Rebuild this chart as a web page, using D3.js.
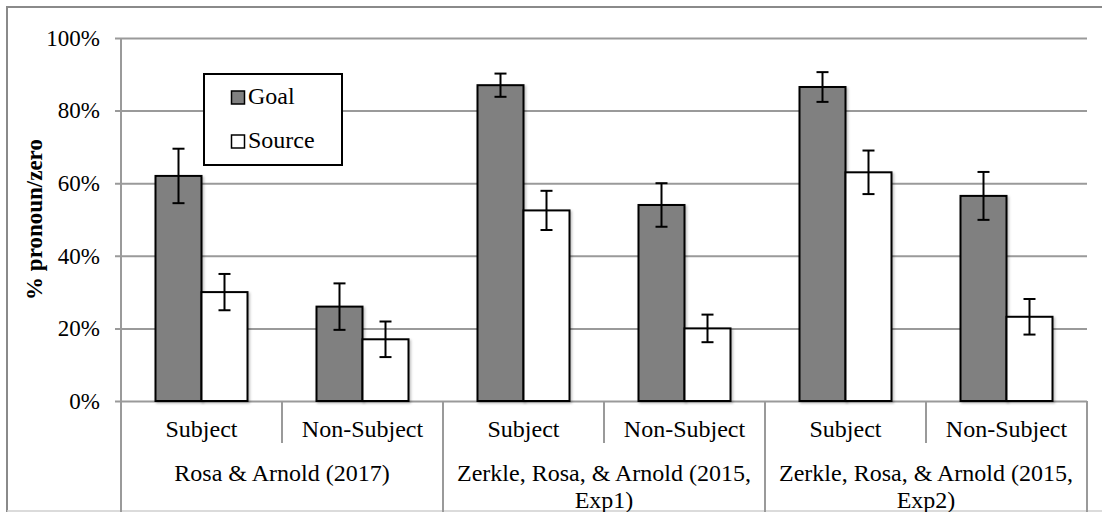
<!DOCTYPE html>
<html>
<head>
<meta charset="utf-8">
<script src="https://cdn.jsdelivr.net/npm/d3@7"></script>
<style>
  html, body { margin: 0; padding: 0; background: #fff; }
  svg { display: block; }
  svg text { font-family: "Liberation Serif", "Times New Roman", Times, "Nimbus Roman", "Nimbus Roman No9 L", "FreeSerif", "Noto Serif", "DejaVu Serif", "Tinos", serif !important; }
</style>
</head>
<body>
<svg id="chart" width="1102" height="512"></svg>
<script>
// Studies and the two positions measured in each
const studies = [
  ["Rosa & Arnold (2017)"],
  ["Zerkle, Rosa, & Arnold (2015,", "Exp1)"],
  ["Zerkle, Rosa, & Arnold (2015,", "Exp2)"]
];
const positions = ["Subject", "Non-Subject"];
const series = ["Goal", "Source"];

// Proportion of pronoun/zero responses, one entry per study x position
const goalValues   = [0.62, 0.26, 0.87, 0.54, 0.865, 0.565];
const sourceValues = [0.30, 0.17, 0.525, 0.20, 0.63, 0.232];
// Error bar half-widths
const goalErrors   = [0.075, 0.064, 0.032, 0.060, 0.041, 0.066];
const sourceErrors = [0.050, 0.049, 0.054, 0.038, 0.060, 0.049];

const yTicks = [0, 0.2, 0.4, 0.6, 0.8, 1.0];

(function draw() {
  const svg = d3.select("#chart");
  const plotLeft = 121, plotRight = 1087, plotTop = 38, plotBottom = 401;

  const categories = [];
  studies.forEach((s, i) => positions.forEach(p => categories.push(i + "|" + p)));

  const x0 = d3.scaleBand().domain(categories).range([plotLeft, plotRight]).padding(0);
  const bw = x0.bandwidth();
  const x1 = d3.scaleBand().domain(series).range([bw * 0.2143, bw * 0.7857]).padding(0);
  const y = d3.scaleLinear().domain([0, 1]).range([plotBottom, plotTop]);

  const gridColor = "#9a9a9a";

  // Outer frame
  svg.append("line").attr("x1", 7).attr("x2", 1102).attr("y1", 7).attr("y2", 7)
    .attr("stroke", "#8a8a8a").attr("stroke-width", 2);
  svg.append("line").attr("x1", 7).attr("x2", 7).attr("y1", 6).attr("y2", 512)
    .attr("stroke", "#8a8a8a").attr("stroke-width", 2);
  svg.append("line").attr("x1", 7).attr("x2", 1102).attr("y1", 511).attr("y2", 511)
    .attr("stroke", "#cfcfcf").attr("stroke-width", 1.5);

  // Gridlines + y axis
  const yAxis = d3.axisLeft(y).tickValues(yTicks).tickFormat(d3.format(".0%"))
    .tickSizeInner(-(plotRight - plotLeft)).tickSizeOuter(0).tickPadding(21);
  const gy = svg.append("g").attr("transform", `translate(${plotLeft},0)`).call(yAxis);
  gy.attr("font-family", null).attr("font-size", null);
  gy.select(".domain").remove();
  gy.selectAll(".tick line").attr("stroke", gridColor).attr("stroke-width", 2).attr("x1", -6);
  gy.selectAll(".tick text").style("font-size", "23px").attr("fill", "#000");

  // Vertical axis line and category dividers
  svg.append("line").attr("x1", plotLeft).attr("x2", plotLeft).attr("y1", plotTop).attr("y2", 512)
    .attr("stroke", gridColor).attr("stroke-width", 2);
  categories.forEach((c, i) => {
    const xe = x0(c) + bw;
    const isGroupEnd = (i % positions.length) === positions.length - 1;
    svg.append("line").attr("x1", xe).attr("x2", xe)
      .attr("y1", plotBottom).attr("y2", isGroupEnd ? 512 : 443)
      .attr("stroke", gridColor).attr("stroke-width", 2);
  });

  // Soft shadow under bars
  const defs = svg.append("defs");
  const f = defs.append("filter").attr("id", "shadow").attr("x", "-10%").attr("y", "-10%")
    .attr("width", "130%").attr("height", "130%");
  f.append("feDropShadow").attr("dx", 1.5).attr("dy", 1.5).attr("stdDeviation", 1.2)
    .attr("flood-color", "#000").attr("flood-opacity", 0.25);

  const rows = categories.map((c, i) => ({
    cat: c,
    bars: [
      { s: "Goal", v: goalValues[i], e: goalErrors[i] },
      { s: "Source", v: sourceValues[i], e: sourceErrors[i] }
    ]
  }));
  const fills = { Goal: "#808080", Source: "#ffffff" };

  const groups = svg.append("g").selectAll("g").data(rows).join("g")
    .attr("transform", d => `translate(${x0(d.cat)},0)`);

  groups.selectAll("rect").data(d => d.bars).join("rect")
    .attr("x", d => x1(d.s))
    .attr("y", d => y(d.v))
    .attr("width", x1.bandwidth())
    .attr("height", d => y(0) - y(d.v))
    .attr("fill", d => fills[d.s])
    .attr("stroke", "#000")
    .attr("stroke-width", 2)
    .attr("filter", "url(#shadow)");

  // Error bars
  const eb = groups.selectAll("g.err").data(d => d.bars).join("g").attr("class", "err");
  const cx = d => x1(d.s) + x1.bandwidth() / 2;
  eb.append("line").attr("x1", cx).attr("x2", cx)
    .attr("y1", d => y(d.v + d.e)).attr("y2", d => y(d.v - d.e))
    .attr("stroke", "#000").attr("stroke-width", 2);
  eb.append("line").attr("x1", d => cx(d) - 6).attr("x2", d => cx(d) + 6)
    .attr("y1", d => y(d.v + d.e)).attr("y2", d => y(d.v + d.e))
    .attr("stroke", "#000").attr("stroke-width", 2);
  eb.append("line").attr("x1", d => cx(d) - 6).attr("x2", d => cx(d) + 6)
    .attr("y1", d => y(d.v - d.e)).attr("y2", d => y(d.v - d.e))
    .attr("stroke", "#000").attr("stroke-width", 2);

  // Position labels
  svg.append("g").selectAll("text").data(categories).join("text")
    .attr("x", c => x0(c) + bw / 2)
    .attr("y", 437)
    .attr("text-anchor", "middle")
    .style("font-size", "24px")
    .text(c => c.split("|")[1]);

  // Study labels
  studies.forEach((lines, i) => {
    const xs = x0(i + "|" + positions[0]);
    const xc = xs + bw * positions.length / 2;
    const t = svg.append("text").attr("x", xc).attr("y", 481)
      .attr("text-anchor", "middle").style("font-size", "24px");
    lines.forEach((ln, j) => {
      t.append("tspan").attr("x", xc).attr("dy", j === 0 ? 0 : 27).text(ln);
    });
  });

  // Y axis title
  svg.append("text")
    .attr("transform", `translate(42,${(plotTop + plotBottom) / 2}) rotate(-90)`)
    .attr("text-anchor", "middle")
    .style("font-size", "23px")
    .style("font-weight", "bold")
    .text("% pronoun/zero");

  // Legend
  const lg = svg.append("g");
  lg.append("rect").attr("x", 204).attr("y", 74).attr("width", 138).attr("height", 91)
    .attr("fill", "#fff").attr("stroke", "#000").attr("stroke-width", 2);
  series.forEach((s, i) => {
    const cy = 97 + i * 44;
    lg.append("rect").attr("x", 231.5).attr("y", cy - 6).attr("width", 13).attr("height", 13)
      .attr("fill", fills[s]).attr("stroke", "#000").attr("stroke-width", 1.5);
    lg.append("text").attr("x", 248).attr("y", cy + 7).style("font-size", "24px").text(s);
  });
})();
</script>
</body>
</html>
